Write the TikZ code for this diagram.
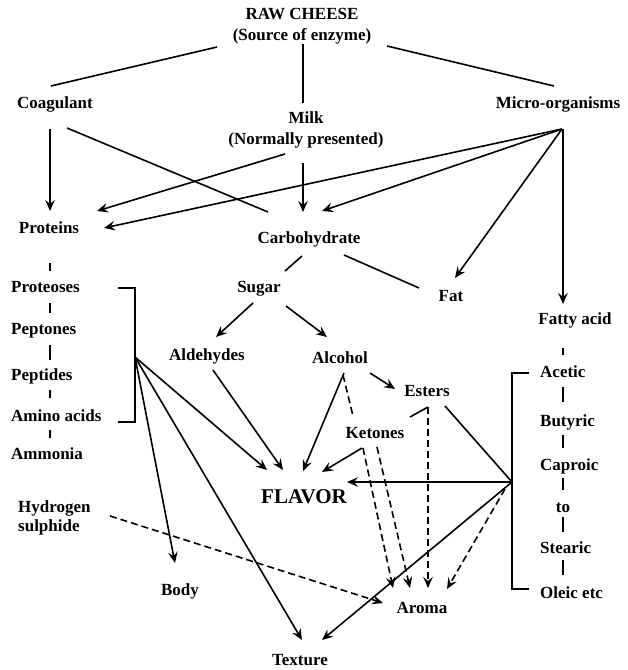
\documentclass[tikz,border=0pt]{standalone}
\usepackage{fontspec}
\setmainfont{Liberation Serif}
\usetikzlibrary{arrows.meta,calc}
\begin{document}
\begin{tikzpicture}[x=1pt,y=-1pt,
  t/.style={font=\fontsize{17}{21}\selectfont\bfseries, inner sep=0pt},
  one/.style={t, text height=12pt, text depth=2pt},
  big/.style={font=\fontsize{21}{24}\selectfont\bfseries, inner sep=0pt, text height=15pt, text depth=2pt},
  link/.style={line width=1.6pt},
  arr/.style={link, -{Stealth[length=11pt,width=9.5pt,inset=4pt]}},
  dsh/.style={link, dash pattern=on 7pt off 4pt},
  darr/.style={dsh, -{Stealth[length=11pt,width=9.5pt,inset=4pt]}}
]
\fill[white] (0,0) rectangle (628,670);
\useasboundingbox (0,0) rectangle (628,670);

% nodes
\node[t,align=center] (raw) at (302,26.5) {RAW CHEESE\\(Source of enzyme)};
\node[one] (coag) at (55,103) {Coagulant};
\node[t,align=center] (milk) at (306,129.5) {Milk\\(Normally presented)};
\node[one] (micro) at (558,103) {Micro-organisms};
\node[one] (prot) at (49,228) {Proteins};
\node[one] (carb) at (309,238) {Carbohydrate};
\node[one] (sugar) at (259,287) {Sugar};
\node[one] (fat) at (451,296) {Fat};
\node[one] (fatty) at (575,319) {Fatty acid};
\node[one,anchor=west] (proteoses) at (11,287) {Proteoses};
\node[one,anchor=west] (peptones) at (11,329) {Peptones};
\node[one,anchor=west] (peptides) at (11,375) {Peptides};
\node[one,anchor=west] (amino) at (11,416) {Amino acids};
\node[one,anchor=west] (ammonia) at (11,454) {Ammonia};
\node[one] (ald) at (207,355) {Aldehydes};
\node[one] (alc) at (340,358) {Alcohol};
\node[one] (est) at (427,391) {Esters};
\node[one] (ket) at (375,433) {Ketones};
\node[big] (flav) at (304,497) {FLAVOR};
\node[t,align=left,anchor=west,font=\fontsize{17}{19}\selectfont\bfseries] (hyd) at (18,518) {Hydrogen\\sulphide};
\node[one] (body) at (180,590) {Body};
\node[one] (aroma) at (422,608) {Aroma};
\node[one] (tex) at (300,660) {Texture};
\node[one,anchor=west] (acetic) at (540,372) {Acetic};
\node[one,anchor=west] (butyric) at (540,421) {Butyric};
\node[one,anchor=west] (caproic) at (540,465) {Caproic};
\node[one] (tto) at (563,507) {to};
\node[one,anchor=west] (stearic) at (540,548) {Stearic};
\node[one,anchor=west] (oleic) at (540,593) {Oleic etc};

% hubs
\coordinate (mhub) at ($(micro)+(4,26)$);
\coordinate (lhub) at ($(peptones.west)+(124,28)$);
\coordinate (rhub) at ($(caproic.west)+(-28,17)$);

% top
\draw[link] ($(raw)+(-85,20.5)$) -- ($(coag)+(-4,-17)$);
\draw[link] ($(raw)+(1,17.5)$) -- ($(milk)+(-3,-26.5)$);
\draw[link] ($(raw)+(85,19.5)$) -- ($(micro)+(-4,-17)$);
\draw[arr] ($(coag)+(-5,26)$) -- ($(prot)+(1,-17)$);
\draw[link] ($(coag)+(12,25)$) -- ($(carb)+(-41,-26)$);
\draw[arr] ($(milk)+(-21,24.5)$) -- ($(prot)+(48,-17)$);
\draw[arr] ($(milk)+(-3,33.5)$) -- ($(carb)+(-6,-26)$);
\draw[arr] (mhub) -- ($(prot)+(55,0)$);
\draw[arr] (mhub) -- ($(carb)+(13,-27)$);
\draw[arr] (mhub) -- ($(fat)+(4,-18)$);
\draw[arr] ($(mhub)+(1,0)$) -- ($(fatty)+(-12,-15)$);

% middle
\draw[link] ($(carb)+(-7,18)$) -- ($(sugar)+(26,-16)$);
\draw[link] ($(carb)+(35,17)$) -- ($(fat)+(-32,-8)$);
\draw[arr] ($(sugar)+(-6,16)$) -- ($(ald)+(9,-18)$);
\draw[arr] ($(sugar)+(27,19)$) -- ($(alc)+(-13,-21)$);
\draw[arr] ($(ald)+(6,15)$) -- ($(flav)+(-21,-27)$);
\draw[arr] (lhub) -- ($(flav)+(-37,-27)$);
\draw[arr] (lhub) -- ($(body)+(-5,-27)$);
\draw[arr] (lhub) -- ($(tex)+(2,-20)$);
\draw[arr] ($(alc)+(4,15)$) -- ($(flav)+(-1,-26)$);
\draw[arr] ($(alc)+(30,15)$) -- ($(est)+(-32,-2)$);
\draw[dsh] ($(alc)+(3,17)$) -- ($(ket)+(-22,-17)$);
\draw[arr] ($(ket)+(-13,15)$) -- ($(flav)+(18,-25)$);
\draw[darr] ($(ket)+(-12,15)$) -- ($(aroma)+(-29,-20)$);
\draw[darr] ($(ket)+(2,14)$) -- ($(aroma)+(-12,-20)$);
\draw[darr] ($(est)+(1,16)$) -- ($(aroma)+(6,-20)$);
\draw[link] ($(ket)+(35,-16)$) -- ($(est)+(1,16)$);
\draw[link] (rhub) -- ($(est)+(18,15)$);
\draw[arr] (rhub) -- ($(flav)+(43,-15)$);
\draw[arr] (rhub) -- ($(tex)+(22,-20)$);
\draw[darr] ($(rhub)+(-7,7)$) -- ($(aroma)+(25,-19)$);
\draw[darr] ($(hyd.west)+(92,-2)$) -- ($(aroma)+(-39,-5)$);

% brackets
\draw[link] ($(proteoses.west)+(107,1)$) -- ++(17,0) -- ($(amino.west)+(124,6)$) -- ++(-17,0);
\draw[link] ($(acetic.west)+(-11,1)$) -- ++(-17,0) -- ($(oleic.west)+(-28,-4)$) -- ++(17,0);

% column dashes
\draw[link] ($(prot)+(1,35)$) -- ++(0,8);
\draw[link] ($(proteoses.west)+(39,16)$) -- ++(0,10);
\draw[link] ($(peptones.west)+(39,16)$) -- ++(0,15);
\draw[link] ($(peptides.west)+(39,15)$) -- ++(0,8);
\draw[link] ($(amino.west)+(39,14)$) -- ++(0,8);
\draw[link] ($(fatty)+(-12,29)$) -- ++(0,7);
\draw[link] ($(acetic.west)+(23,15)$) -- ++(0,15);
\draw[link] ($(butyric.west)+(23,14)$) -- ++(0,13);
\draw[link] ($(caproic.west)+(23,13)$) -- ++(0,12);
\draw[link] ($(tto)+(0,10)$) -- ++(0,15);
\draw[link] ($(stearic.west)+(23,12)$) -- ++(0,15);
\end{tikzpicture}
\end{document}
